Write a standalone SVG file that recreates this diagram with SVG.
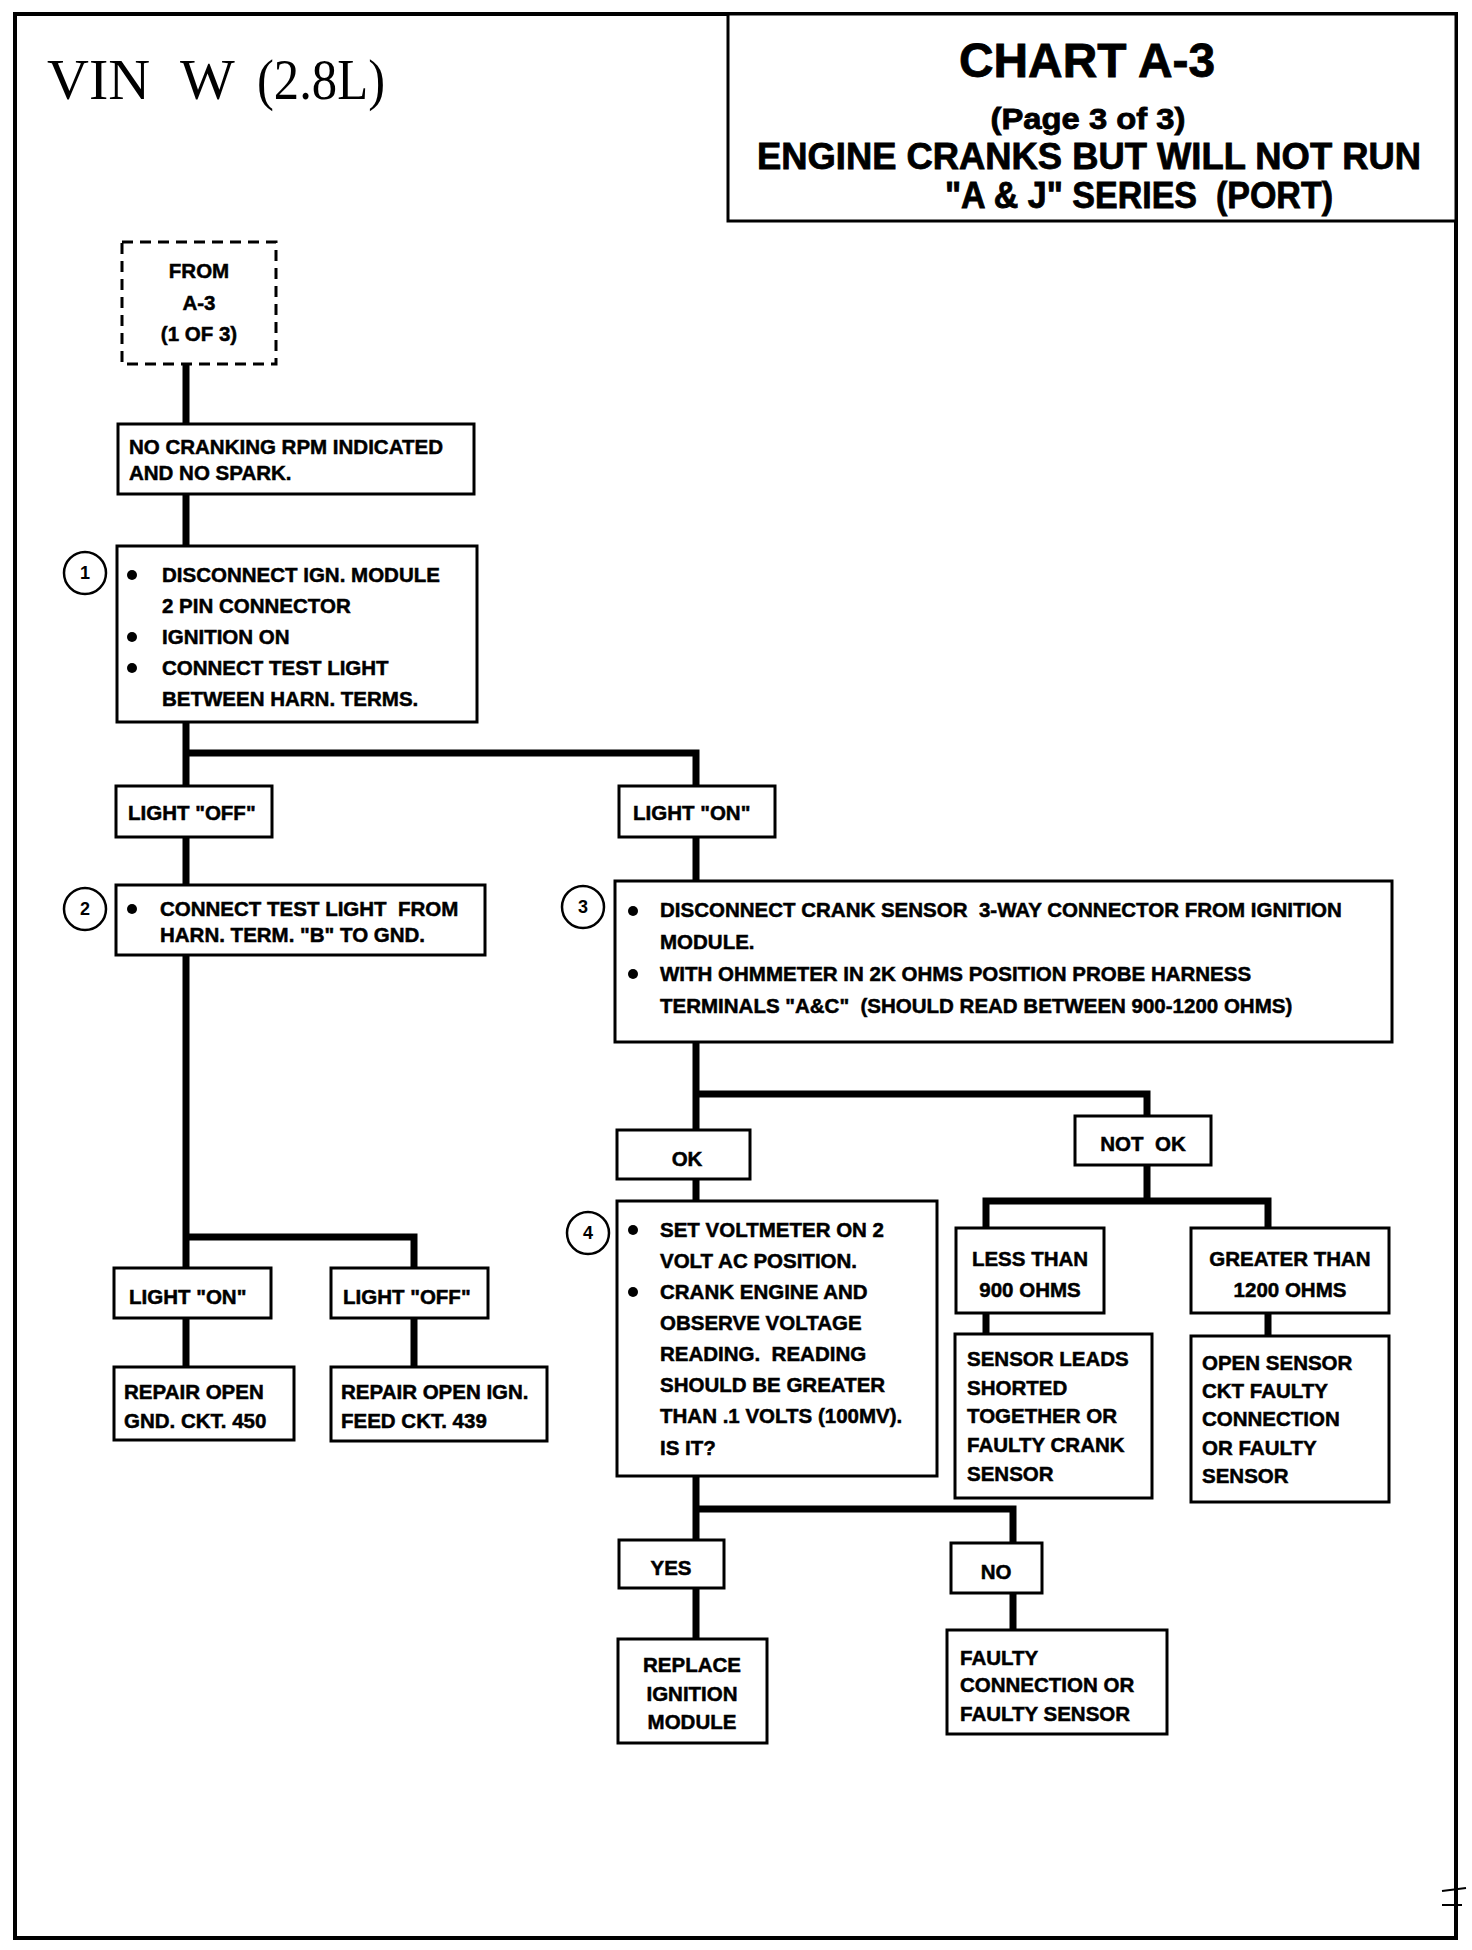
<svg xmlns="http://www.w3.org/2000/svg" width="1472" height="1950" viewBox="0 0 1472 1950">
<style>
.box{fill:#fff;stroke:#000;stroke-width:3}
.dash{fill:#fff;stroke:#000;stroke-width:3;stroke-dasharray:11 7}
.conn{fill:none;stroke:#000;stroke-width:7;stroke-linecap:square;stroke-linejoin:miter}
.t{font-family:"Liberation Sans",Arial,sans-serif;font-weight:bold;font-size:20.5px;fill:#000;stroke:#000;stroke-width:0.5}
.c{text-anchor:middle}
.num{fill:#fff;stroke:#000;stroke-width:2.5}
.nt{font-family:"Liberation Sans",Arial,sans-serif;font-weight:bold;font-size:18px;text-anchor:middle}
.h{font-family:"Liberation Sans",Arial,sans-serif;font-weight:bold;text-anchor:middle;stroke:#000;stroke-width:0.8}
</style>
<rect width="1472" height="1950" fill="#fff"/>
<rect x="15" y="14" width="1441" height="1924" fill="none" stroke="#000" stroke-width="4"/>
<g id="title">
<text y="99" font-family="Liberation Serif,'Times New Roman',serif" font-size="58"><tspan x="47">VIN</tspan><tspan x="180">W</tspan><tspan x="257" textLength="128" lengthAdjust="spacingAndGlyphs">(2.8L)</tspan></text>
</g>
<g id="header">
<rect x="728" y="14" width="728" height="207" fill="#fff" stroke="#000" stroke-width="3"/>
<text class="h" x="1087" y="77" font-size="48" textLength="256" lengthAdjust="spacingAndGlyphs">CHART A-3</text>
<text class="h" x="1088" y="129" font-size="30" textLength="195" lengthAdjust="spacingAndGlyphs">(Page 3 of 3)</text>
<text class="h" x="1089" y="169" font-size="36" textLength="664" lengthAdjust="spacingAndGlyphs">ENGINE CRANKS BUT WILL NOT RUN</text>
<text class="h" x="1139" y="208" font-size="36" textLength="388" lengthAdjust="spacingAndGlyphs" xml:space="preserve">"A &amp; J" SERIES  (PORT)</text>
</g>
<g id="connectors">
<path class="conn" d="M186 364V424M186 494V546M186 722V786M186 753H696V786"/>
<path class="conn" d="M186 837V885M186 955V1268M186 1237H414V1268M186 1318V1367M414 1318V1367"/>
<path class="conn" d="M696 837V881M696 1042V1130M696 1094H1147V1116M696 1179V1201M1147 1165V1201M986 1201H1268V1228M986 1201V1228"/>
<path class="conn" d="M986 1313V1334M1268 1313V1336"/>
<path class="conn" d="M696 1476V1540M696 1509H1013V1543M696 1588V1639M1013 1593V1630"/>
</g>
<g id="from">
<rect class="dash" x="122" y="242" width="154" height="122"/>
<text class="t c" x="199" y="278" font-size="19">FROM</text>
<text class="t c" x="199" y="310" font-size="19">A-3</text>
<text class="t c" x="199" y="341" font-size="19">(1 OF 3)</text>
</g>
<g id="nocrank">
<rect class="box" x="118" y="424" width="356" height="70"/>
<text class="t" x="129" y="454">NO CRANKING RPM INDICATED</text>
<text class="t" x="129" y="480">AND NO SPARK.</text>
</g>
<g id="step1">
<circle class="num" cx="85" cy="573" r="21"/><text class="nt" x="85" y="579">1</text>
<rect class="box" x="117" y="546" width="360" height="176"/>
<circle cx="132" cy="575" r="5"/><circle cx="132" cy="637" r="5"/><circle cx="132" cy="668" r="5"/>
<text class="t" x="162" y="582">DISCONNECT IGN. MODULE</text>
<text class="t" x="162" y="613">2 PIN CONNECTOR</text>
<text class="t" x="162" y="644">IGNITION ON</text>
<text class="t" x="162" y="675">CONNECT TEST LIGHT</text>
<text class="t" x="162" y="706">BETWEEN HARN. TERMS.</text>
</g>
<g id="lightoff1">
<rect class="box" x="116" y="786" width="156" height="51"/>
<text class="t" x="128" y="820">LIGHT "OFF"</text>
</g>
<g id="lighton1">
<rect class="box" x="619" y="786" width="156" height="51"/>
<text class="t" x="633" y="820">LIGHT "ON"</text>
</g>
<g id="step2">
<circle class="num" cx="85" cy="909" r="21"/><text class="nt" x="85" y="915">2</text>
<rect class="box" x="116" y="885" width="369" height="70"/>
<circle cx="132" cy="909" r="5"/>
<text class="t" x="160" y="916" xml:space="preserve">CONNECT TEST LIGHT  FROM</text>
<text class="t" x="160" y="942">HARN. TERM. "B" TO GND.</text>
</g>
<g id="step3">
<circle class="num" cx="583" cy="907" r="21"/><text class="nt" x="583" y="913">3</text>
<rect class="box" x="615" y="881" width="777" height="161"/>
<circle cx="633" cy="911" r="5"/><circle cx="633" cy="974" r="5"/>
<text class="t" x="660" y="917" xml:space="preserve">DISCONNECT CRANK SENSOR  3-WAY CONNECTOR FROM IGNITION</text>
<text class="t" x="660" y="949">MODULE.</text>
<text class="t" x="660" y="981">WITH OHMMETER IN 2K OHMS POSITION PROBE HARNESS</text>
<text class="t" x="660" y="1013" xml:space="preserve">TERMINALS "A&amp;C"  (SHOULD READ BETWEEN 900-1200 OHMS)</text>
</g>
<g id="lighton2">
<rect class="box" x="114" y="1268" width="157" height="50"/>
<text class="t" x="129" y="1304">LIGHT "ON"</text>
</g>
<g id="lightoff2">
<rect class="box" x="331" y="1268" width="157" height="50"/>
<text class="t" x="343" y="1304">LIGHT "OFF"</text>
</g>
<g id="repairgnd">
<rect class="box" x="114" y="1367" width="180" height="73"/>
<text class="t" x="124" y="1399">REPAIR OPEN</text>
<text class="t" x="124" y="1428">GND. CKT. 450</text>
</g>
<g id="repairfeed">
<rect class="box" x="331" y="1367" width="216" height="74"/>
<text class="t" x="341" y="1399">REPAIR OPEN IGN.</text>
<text class="t" x="341" y="1428">FEED CKT. 439</text>
</g>
<g id="ok">
<rect class="box" x="617" y="1130" width="133" height="49"/>
<text class="t c" x="687" y="1166">OK</text>
</g>
<g id="notok">
<rect class="box" x="1075" y="1116" width="136" height="49"/>
<text class="t c" x="1143" y="1151" xml:space="preserve">NOT  OK</text>
</g>
<g id="step4">
<circle class="num" cx="588" cy="1233" r="21"/><text class="nt" x="588" y="1239">4</text>
<rect class="box" x="617" y="1201" width="320" height="275"/>
<circle cx="633" cy="1230" r="5"/><circle cx="633" cy="1292" r="5"/>
<text class="t" x="660" y="1237">SET VOLTMETER ON 2</text>
<text class="t" x="660" y="1268">VOLT AC POSITION.</text>
<text class="t" x="660" y="1299">CRANK ENGINE AND</text>
<text class="t" x="660" y="1330">OBSERVE VOLTAGE</text>
<text class="t" x="660" y="1361" xml:space="preserve">READING.  READING</text>
<text class="t" x="660" y="1392">SHOULD BE GREATER</text>
<text class="t" x="660" y="1423">THAN .1 VOLTS (100MV).</text>
<text class="t" x="660" y="1455">IS IT?</text>
</g>
<g id="lessthan">
<rect class="box" x="956" y="1228" width="148" height="85"/>
<text class="t c" x="1030" y="1266">LESS THAN</text>
<text class="t c" x="1030" y="1297">900 OHMS</text>
</g>
<g id="greaterthan">
<rect class="box" x="1191" y="1228" width="198" height="85"/>
<text class="t c" x="1290" y="1266">GREATER THAN</text>
<text class="t c" x="1290" y="1297">1200 OHMS</text>
</g>
<g id="shorted">
<rect class="box" x="955" y="1334" width="197" height="164"/>
<text class="t" x="967" y="1366">SENSOR LEADS</text>
<text class="t" x="967" y="1395">SHORTED</text>
<text class="t" x="967" y="1423">TOGETHER OR</text>
<text class="t" x="967" y="1452">FAULTY CRANK</text>
<text class="t" x="967" y="1481">SENSOR</text>
</g>
<g id="opensensor">
<rect class="box" x="1191" y="1336" width="198" height="166"/>
<text class="t" x="1202" y="1370">OPEN SENSOR</text>
<text class="t" x="1202" y="1398">CKT FAULTY</text>
<text class="t" x="1202" y="1426">CONNECTION</text>
<text class="t" x="1202" y="1455">OR FAULTY</text>
<text class="t" x="1202" y="1483">SENSOR</text>
</g>
<g id="yes">
<rect class="box" x="619" y="1540" width="105" height="48"/>
<text class="t c" x="671" y="1575">YES</text>
</g>
<g id="no">
<rect class="box" x="951" y="1543" width="91" height="50"/>
<text class="t c" x="996" y="1579">NO</text>
</g>
<g id="replace">
<rect class="box" x="618" y="1639" width="149" height="104"/>
<text class="t c" x="692" y="1672">REPLACE</text>
<text class="t c" x="692" y="1701">IGNITION</text>
<text class="t c" x="692" y="1729">MODULE</text>
</g>
<g id="faulty">
<rect class="box" x="947" y="1630" width="220" height="104"/>
<text class="t" x="960" y="1665">FAULTY</text>
<text class="t" x="960" y="1692">CONNECTION OR</text>
<text class="t" x="960" y="1721">FAULTY SENSOR</text>
</g>
<g id="marks" stroke="#000" stroke-width="2">
<line x1="1442" y1="1891" x2="1466" y2="1888"/>
<line x1="1442" y1="1905" x2="1462" y2="1905"/>
</g>
</svg>
